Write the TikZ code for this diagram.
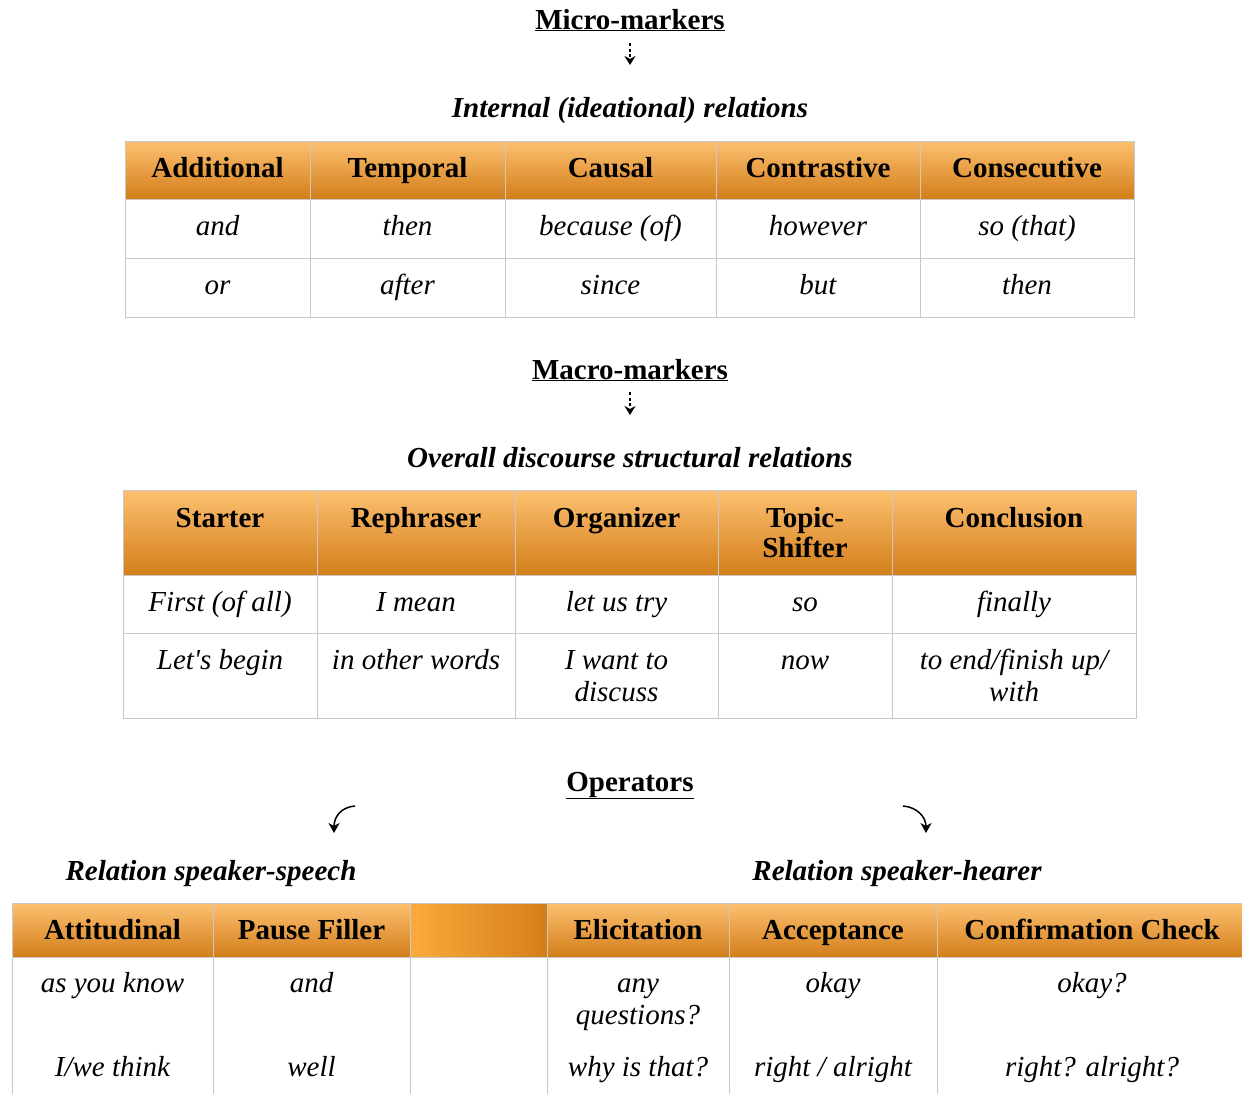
\documentclass[tikz,border=0pt]{standalone}
\usepackage{fontspec}
\setmainfont{Liberation Serif}
\usetikzlibrary{arrows.meta}

\definecolor{hdtop}{RGB}{253,192,112}
\definecolor{hdbot}{RGB}{211,126,26}
\definecolor{gridc}{RGB}{200,200,200}
\definecolor{gaplt}{RGB}{251,170,60}
\definecolor{gapdk}{RGB}{212,126,24}

% two stacked lines, baseline on the first one
\newcommand{\twol}[2]{{\setlength{\tabcolsep}{0pt}\begin{tabular}[t]{c}#1\\#2\end{tabular}}}
% heading with a rule just under the baseline
\newcommand{\ulhead}[1]{\underline{#1}}

\tikzset{
  hdcell/.style={draw=gridc, line width=0.8pt, top color=hdtop, bottom color=hdbot},
  gapcell/.style={draw=gridc, line width=0.8pt, left color=gaplt, right color=gapdk},
  bodycell/.style={draw=gridc, line width=0.8pt},
  hdtext/.style={font=\fontsize{29}{30}\selectfont\bfseries, inner sep=0pt, anchor=base},
  itext/.style={font=\fontsize{29}{32}\selectfont\itshape, inner sep=0pt, anchor=base},
  titletext/.style={font=\fontsize{29}{30}\selectfont\bfseries, inner sep=0pt, anchor=base},
  subtext/.style={font=\fontsize{29}{30}\selectfont\bfseries\itshape, inner sep=0pt, anchor=base},
  dasharrow/.style={line width=2pt, dash pattern=on 3pt off 2.5pt, -{Stealth[length=9pt,width=11pt]}},
  curvearrow/.style={line width=1.5pt, -{Stealth[length=10pt,width=11pt,inset=3pt]}},
}

\begin{document}
\begin{tikzpicture}[x=1pt, y=-1pt]
\useasboundingbox (0,0) rectangle (1242,1093);
\clip (0,0) rectangle (1242,1093);

% ---------- Micro-markers ----------
\node[titletext] (micro) at (630,29) {\ulhead{Micro-markers}};
\coordinate (microend) at (630,65);
\draw[dasharrow] (630,43) -- (microend);
\node[subtext] (internal) at (630,117) {Internal (ideational) relations};

% cells of the first table
\foreach \xa/\xb in {125/310, 310/505, 505/716, 716/920, 920/1134} {
  \path[hdcell] (\xa,141) rectangle (\xb,199);
  \path[bodycell] (\xa,199) rectangle (\xb,258);
  \path[bodycell] (\xa,258) rectangle (\xb,317);
}
\node[hdtext] (ta1) at (217.5,177) {Additional};
\node[hdtext] (ta2) at (407.5,177) {Temporal};
\node[hdtext] (ta3) at (610.5,177) {Causal};
\node[hdtext] (ta4) at (818,177) {Contrastive};
\node[hdtext] (ta5) at (1027,177) {Consecutive};
\node[itext] (ra1) at (217.5,235) {and};
\node[itext] (ra2) at (407.5,235) {then};
\node[itext] (ra3) at (610.5,235) {because (of)};
\node[itext] (ra4) at (818,235) {however};
\node[itext] (ra5) at (1027,235) {so (that)};
\node[itext] (sa1) at (217.5,294) {or};
\node[itext] (sa2) at (407.5,294) {after};
\node[itext] (sa3) at (610.5,294) {since};
\node[itext] (sa4) at (818,294) {but};
\node[itext] (sa5) at (1027,294) {then};

% ---------- Macro-markers ----------
\node[titletext] (macro) at (630,379) {\ulhead{Macro-markers}};
\coordinate (macroend) at (630,415);
\draw[dasharrow] (630,392) -- (macroend);
\node[subtext] (overall) at (630,467) {Overall discourse structural relations};

% cells of the second table
\foreach \xa/\xb in {123/317, 317/515, 515/718, 718/892, 892/1136} {
  \path[hdcell] (\xa,490) rectangle (\xb,575);
  \path[bodycell] (\xa,575) rectangle (\xb,633);
  \path[bodycell] (\xa,633) rectangle (\xb,718);
}
\node[hdtext] (tb1) at (220,527) {Starter};
\node[hdtext] (tb2) at (416,527) {Rephraser};
\node[hdtext] (tb3) at (616.5,527) {Organizer};
\node[hdtext] (tb4) at (805,527) {\twol{Topic-}{Shifter}};
\node[hdtext] (tb5) at (1014,527) {Conclusion};
\node[itext] (rb1) at (220,611) {First (of all)};
\node[itext] (rb2) at (416,611) {I mean};
\node[itext] (rb3) at (616.5,611) {let us try};
\node[itext] (rb4) at (805,611) {so};
\node[itext] (rb5) at (1014,611) {finally};
\node[itext] (sb1) at (220,669) {Let\textquotesingle s begin};
\node[itext] (sb2) at (416,669) {in other words};
\node[itext] (sb3) at (616.5,669) {\twol{I want to}{discuss}};
\node[itext] (sb4) at (805,669) {now};
\node[itext] (sb5) at (1014,669) {\twol{to end/finish up/}{with}};

% ---------- Operators ----------
\node[titletext] (oper) at (630,791) {\ulhead{Operators}};
\coordinate (lfrom) at (355,806);
\coordinate (lto) at (334,833);
\coordinate (rfrom) at (903,806);
\coordinate (rto) at (926,833);
\draw[curvearrow] (lfrom) .. controls (341,807) and (334,817) .. (lto);
\draw[curvearrow] (rfrom) .. controls (917,807) and (926,817) .. (rto);
\node[subtext] (speech) at (211,880) {Relation speaker-speech};
\node[subtext] (hearer) at (897,880) {Relation speaker-hearer};

% cells of the third table
\foreach \xa/\xb in {12/213, 213/410, 547/729, 729/937, 937/1250} {
  \path[hdcell] (\xa,903) rectangle (\xb,957);
  \path[bodycell] (\xa,957) rectangle (\xb,1110);
}
\path[gapcell] (410,903) rectangle (547,957);
\path[bodycell] (410,957) rectangle (547,1110);
\node[hdtext] (tc1) at (112.5,939) {Attitudinal};
\node[hdtext] (tc2) at (311.5,939) {Pause Filler};
\node[hdtext] (tc3) at (638,939) {Elicitation};
\node[hdtext] (tc4) at (833,939) {Acceptance};
\node[hdtext] (tc5) at (1092,939) {Confirmation Check};
\node[itext] (rc1) at (112.5,992) {as you know};
\node[itext] (rc2) at (311.5,992) {and};
\node[itext] (rc3) at (638,992) {\twol{any}{questions?}};
\node[itext] (rc4) at (833,992) {okay};
\node[itext] (rc5) at (1092,992) {okay?};
\node[itext] (sc1) at (112.5,1076) {I/we think};
\node[itext] (sc2) at (311.5,1076) {well};
\node[itext] (sc3) at (638,1076) {why is that?};
\node[itext] (sc4) at (833,1076) {right / alright};
\node[itext] (sc5) at (1092,1076) {right? alright?};
\end{tikzpicture}
\end{document}
